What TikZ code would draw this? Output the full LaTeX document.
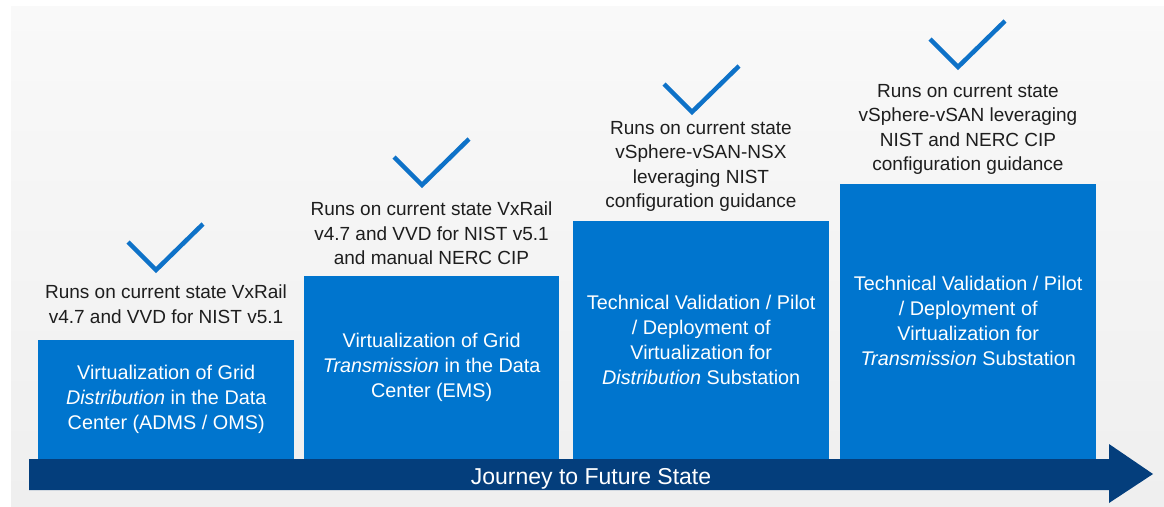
\documentclass[tikz,border=0pt]{standalone}
\usepackage{fontspec}
\setmainfont{Liberation Sans}
\definecolor{boxblue}{RGB}{0,117,206}
\definecolor{darkblue}{RGB}{4,62,124}
\definecolor{checkblue}{RGB}{14,114,200}
\definecolor{txtgray}{RGB}{30,30,30}
\definecolor{paneltop}{RGB}{249,249,249}
\definecolor{panelbot}{RGB}{239,239,239}
\tikzset{
  stage/.style={fill=boxblue, text=white, inner sep=0pt, anchor=south west,
    align=center, font=\fontsize{19.8}{25}\selectfont},
  note/.style={text=txtgray, inner sep=0pt, anchor=north, align=center,
    font=\fontsize{19}{24.5}\selectfont},
  checkline/.style={draw=checkblue, line width=4.5pt, line cap=butt, line join=miter},
  checkmk/.pic={\draw[checkline] (-28,-28) -- (0,0) -- (47,-46);}
}
\begin{document}
\begin{tikzpicture}[x=1pt,y=-1pt]
\useasboundingbox (0,0) rectangle (1164,506);
\fill[white] (0,0) rectangle (1164,506);
\shade[top color=paneltop, bottom color=panelbot] (11,6) rectangle (1164,506);
% stage boxes
\node[stage, minimum width=256pt, minimum height=119pt] (b1) at (38,459)
  {Virtualization of Grid\\\textit{Distribution} in the Data\\Center (ADMS / OMS)};
\node[stage, minimum width=255pt, minimum height=183pt] (b2) at (304,459)
  {Virtualization of Grid\\\textit{Transmission} in the Data\\Center (EMS)};
\node[stage, minimum width=256pt, minimum height=238pt] (b3) at (573,459)
  {Technical Validation / Pilot\\/ Deployment of\\Virtualization for\\\textit{Distribution} Substation};
\node[stage, minimum width=256pt, minimum height=275pt] (b4) at (840,459)
  {Technical Validation / Pilot\\/ Deployment of\\Virtualization for\\\textit{Transmission} Substation};
% notes above
\node[note] (t1) at (166,285) {Runs on current state VxRail\\v4.7 and VVD for NIST v5.1};
\node[note] (t2) at (431.5,202) {Runs on current state VxRail\\v4.7 and VVD for NIST v5.1\\and manual NERC CIP};
\node[note] (t3) at (701,121) {Runs on current state\\vSphere-vSAN-NSX\\leveraging NIST\\configuration guidance};
\node[note] (t4) at (968,84) {Runs on current state\\vSphere-vSAN leveraging\\NIST and NERC CIP\\configuration guidance};
% check marks
\pic at (156,270) {checkmk};
\pic at (422,185) {checkmk};
\pic at (692,112) {checkmk};
\pic at (958,67) {checkmk};
% journey arrow
\fill[darkblue] (29,459) -- (1109,459) -- (1109,444) -- (1153,474) -- (1109,503)
  -- (1109,490) -- (29,490) -- cycle;
\node[text=white, inner sep=0pt, anchor=base, font=\fontsize{23}{27}\selectfont]
  (lab) at (591,484) {Journey to Future State};
\end{tikzpicture}
\end{document}
